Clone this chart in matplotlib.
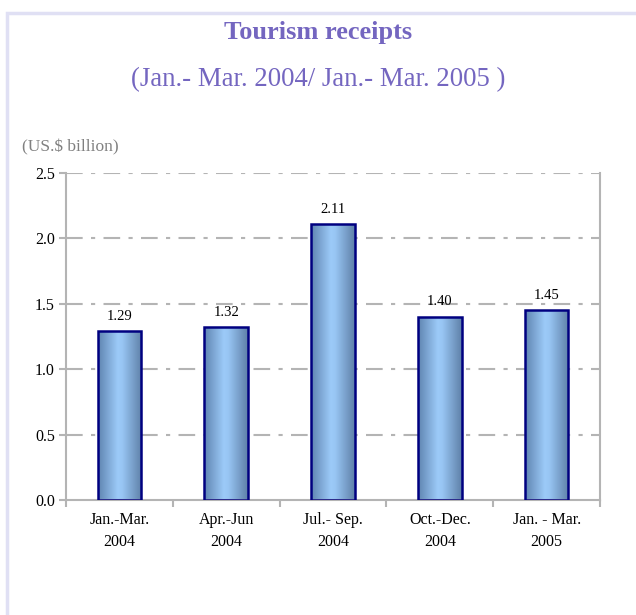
import numpy as np
import matplotlib
matplotlib.use("Agg")
import matplotlib.pyplot as plt
from matplotlib.colors import LinearSegmentedColormap
from matplotlib.patches import Rectangle

# --- DATA ---
categories = ["Jan.-Mar.\n2004", "Apr.-Jun\n2004", "Jul.- Sep.\n2004",
              "Oct.-Dec.\n2004", "Jan. - Mar.\n2005"]
values = [1.29, 1.32, 2.11, 1.40, 1.45]
value_labels = ["1.29", "1.32", "2.11", "1.40", "1.45"]
yticks = [0.0, 0.5, 1.0, 1.5, 2.0, 2.5]

plt.rcParams['font.family'] = ['Liberation Serif', 'DejaVu Serif']
TITLE_COLOR = '#7466c0'
GRID_COLOR = '#b4b4b4'

fig = plt.figure(figsize=(6.36, 6.15), dpi=100)
fig.patch.set_facecolor('white')

# light frame around the chart area
frame = Rectangle((7 / 636, -0.02), 1.0, 1 - 13 / 615 + 0.02, transform=fig.transFigure,
                  fill=False, edgecolor='#e0e0f4', linewidth=2.5, zorder=0)
fig.add_artist(frame)

ax = fig.add_axes([66 / 636, 1 - 500 / 615, (600 - 66) / 636, (500 - 173) / 615])

x = np.arange(len(values))
bars = ax.bar(x, values, width=0.41, color='none', edgecolor='#000080', linewidth=1.8, zorder=3)

# horizontal gradient inside each bar
cmap = LinearSegmentedColormap.from_list(
    'bar', [(0.0, '#5f84b0'), (0.45, '#9ccaf8'), (0.55, '#98c6f4'), (1.0, '#5f80a8')])
grad = np.linspace(0, 1, 256).reshape(1, -1)
for b in bars:
    im = ax.imshow(grad, cmap=cmap, aspect='auto', zorder=2,
                   extent=[b.get_x(), b.get_x() + b.get_width(), 0, b.get_height()])
    im.set_clip_path(b)

for xi, v, lab in zip(x, values, value_labels):
    ax.text(xi, v + 0.065, lab, ha='center', va='bottom', fontsize=10.5, color='black')

ax.set_xlim(-0.5, len(values) - 0.5)
ax.set_ylim(0, 2.5)
ax.set_yticks(yticks)
ax.set_yticklabels([f"{t:.1f}" for t in yticks], fontsize=11.5)
ax.set_xticks(x)
ax.set_xticklabels(categories, fontsize=11.5, linespacing=1.45)
ax.tick_params(axis='x', length=0, pad=9)
ax.set_xticks(np.arange(len(values) + 1) - 0.5, minor=True)
ax.tick_params(axis='x', which='minor', length=5, color=GRID_COLOR, width=1.5, direction='out')
ax.tick_params(axis='y', length=5, color=GRID_COLOR, width=1.5, direction='out', pad=3)

for t in yticks[1:]:
    ax.axhline(t, color=GRID_COLOR, linewidth=1.5, linestyle=(0, (8, 4, 2, 4)), zorder=1)

for side in ['left', 'bottom', 'right']:
    ax.spines[side].set_color(GRID_COLOR)
    ax.spines[side].set_linewidth(1.5)
ax.spines['top'].set_visible(False)

fig.text(0.5, 1 - 33 / 615, "Tourism receipts", ha='center', va='center',
         fontsize=19, fontweight='bold', color=TITLE_COLOR)
fig.text(0.5, 1 - 80 / 615, "(Jan.- Mar. 2004/ Jan.- Mar. 2005 )", ha='center', va='center',
         fontsize=19.3, color=TITLE_COLOR)
fig.text(22 / 636, 1 - 147 / 615, "(US.$ billion)", ha='left', va='center',
         fontsize=12.5, color='#808080')

plt.savefig("out.png", dpi=100)
